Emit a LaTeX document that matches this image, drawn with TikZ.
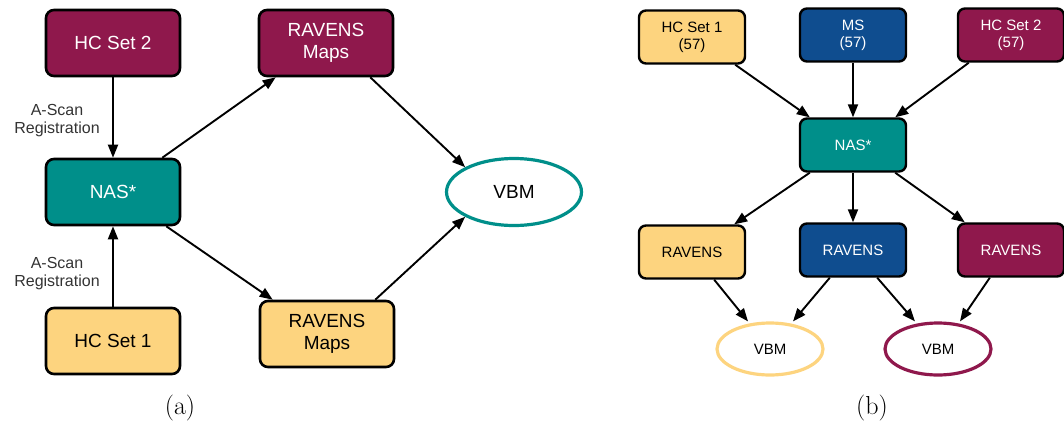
\documentclass[tikz,border=0pt]{standalone}
\usepackage{fontspec}
\setmainfont{Latin Modern Roman}
\newfontfamily\helv{Liberation Sans}
\usetikzlibrary{arrows.meta,shapes.geometric}
\definecolor{plum}{HTML}{8F184C}
\definecolor{tealc}{HTML}{008F8A}
\definecolor{yell}{HTML}{FDD47F}
\definecolor{bluec}{HTML}{0F4D8F}
\tikzset{
  boxa/.style={draw=black, line width=2.6pt, rounded corners=8pt, minimum width=134pt, minimum height=66pt, inner sep=0pt, align=center, font=\helv\fontsize{19}{22}\selectfont},
  boxb/.style={draw=black, line width=2.4pt, rounded corners=7pt, minimum width=106pt, minimum height=53pt, inner sep=0pt, align=center, font=\helv\fontsize{15}{17}\selectfont},
  wt/.style={text=white},
  arr/.style={-{Triangle[length=13pt,width=10pt]}, line width=1.9pt},
  lbl/.style={font=\helv\fontsize{16}{18}\selectfont, align=center, text=black!80},
  ell/.style={ellipse, line width=3.2pt, fill=white, inner sep=0pt},
  captxt/.style={font=\fontsize{26}{29}\selectfont}
}
\begin{document}
\begin{tikzpicture}[x=1pt,y=-1pt]
\useasboundingbox (0,0) rectangle (1064,428);
% panel (a)
\node[boxa, fill=plum, wt] (hc2a) at (113,43) {HC Set 2};
\node[boxa, fill=tealc, wt] (nasa) at (113,192) {NAS*};
\node[boxa, fill=yell] (hc1a) at (113,341) {HC Set 1};
\node[boxa, fill=plum, wt] (rava) at (326,43) {RAVENS\\Maps};
\node[boxa, fill=yell] (ravb) at (327,334) {RAVENS\\Maps};
\node[ell, draw=tealc, minimum width=135pt, minimum height=67pt, font=\helv\fontsize{19}{22}\selectfont] (vbma) at (514,192) {VBM};
\node[lbl] (la1) at (57,121) {A-Scan\\Registration};
\node[lbl] (la2) at (57,274) {A-Scan\\Registration};
\draw[arr] (hc2a) -- (nasa);
\draw[arr] (hc1a) -- (nasa);
\draw[arr] ([xshift=-19pt]nasa.north east) -- ([xshift=18pt]rava.south west);
\draw[arr] ([xshift=-15pt]nasa.south east) -- ([xshift=14pt]ravb.north west);
\draw[arr] ([xshift=-24pt]rava.south east) -- (vbma.north west);
\draw[arr] ([xshift=-20pt]ravb.north east) -- (vbma.south west);
\node[captxt] (capa) at (180,408) {(a)};
% panel (b)
\node[boxb, fill=yell] (hc1b) at (692,37) {HC Set 1\\(57)};
\node[boxb, fill=bluec, wt] (msb) at (853,35) {MS\\(57)};
\node[boxb, fill=plum, wt] (hc2b) at (1011,35) {HC Set 2\\(57)};
\node[boxb, fill=tealc, wt] (nasb) at (853,145) {NAS*};
\node[boxb, fill=yell] (ry) at (692,252) {RAVENS};
\node[boxb, fill=bluec, wt] (rbl) at (853,250) {RAVENS};
\node[boxb, fill=plum, wt] (rpl) at (1011,250) {RAVENS};
\node[ell, draw=yell, minimum width=106pt, minimum height=52pt, font=\helv\fontsize{15}{17}\selectfont] (vy) at (770,349) {VBM};
\node[ell, draw=plum, minimum width=106pt, minimum height=52pt, font=\helv\fontsize{15}{17}\selectfont] (vp) at (938,349) {VBM};
\draw[arr] ([xshift=-11pt]hc1b.south east) -- ([xshift=11pt]nasb.north west);
\draw[arr] (msb) -- (nasb);
\draw[arr] ([xshift=12pt]hc2b.south west) -- ([xshift=-12pt]nasb.north east);
\draw[arr] ([xshift=11pt]nasb.south west) -- ([xshift=-12pt]ry.north east);
\draw[arr] (nasb) -- (rbl);
\draw[arr] ([xshift=-12pt]nasb.south east) -- ([xshift=8pt]rpl.north west);
\draw[arr] ([xshift=-32pt]ry.south east) -- ([xshift=-22pt]vy.north);
\draw[arr] ([xshift=31pt]rbl.south west) -- ([xshift=23pt]vy.north);
\draw[arr] ([xshift=-30pt]rbl.south east) -- ([xshift=-23pt]vp.north);
\draw[arr] ([xshift=33pt]rpl.south west) -- ([xshift=22pt]vp.north);
\node[captxt] (capb) at (872,408) {(b)};
\end{tikzpicture}
\end{document}
